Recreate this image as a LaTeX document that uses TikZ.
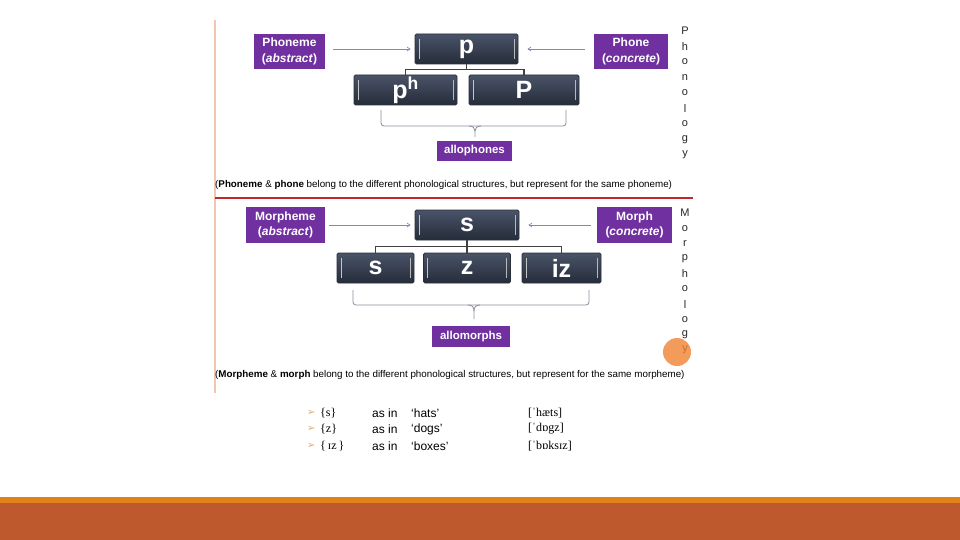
\documentclass[tikz,border=0pt]{standalone}
\usepackage{fontspec}
\setmainfont{Liberation Sans}
\newfontfamily\ipafont{Liberation Serif}
\newfontfamily\symfont{DejaVu Sans}
\usetikzlibrary{arrows.meta,calc}
\definecolor{purp}{HTML}{7030A0}
\definecolor{boxtop}{HTML}{4A5468}
\definecolor{boxbot}{HTML}{252C3A}
\definecolor{boxedge}{HTML}{2A303C}
\definecolor{arrc}{HTML}{9282B4}
\definecolor{brc}{HTML}{8C8C9C}
\definecolor{redline}{HTML}{C02A2A}
\definecolor{leftline}{HTML}{F3C6B0}
\definecolor{barorange}{HTML}{E0811A}
\definecolor{barbrown}{HTML}{BE592D}
\definecolor{dotorange}{HTML}{F08232}
\definecolor{bulletc}{HTML}{E9A86C}
\tikzset{
  dbox/.style={rounded corners=1.5pt, top color=boxtop, bottom color=boxbot, draw=boxedge, line width=0.8pt,
    text=white, font=\bfseries\fontsize{25}{27}\selectfont, inner sep=0pt,
    path picture={\draw[white!55!gray, line width=0.8pt]
      ([xshift=4pt,yshift=-5pt]path picture bounding box.north west) --
      ([xshift=4pt,yshift=5pt]path picture bounding box.south west);
      \draw[white!45!gray, line width=0.8pt]
      ([xshift=-4pt,yshift=-5pt]path picture bounding box.north east) --
      ([xshift=-4pt,yshift=5pt]path picture bounding box.south east);}},
  pbox/.style={fill=purp, text=white, font=\bfseries\fontsize{12}{15.5}\selectfont, align=center, inner sep=0pt},
  arr/.style={draw=arrc, line width=0.7pt, -{Straight Barb[length=3pt,width=4pt]}},
  tree/.style={draw=black!75, line width=1.7pt},
  brace/.style={draw=brc, line width=0.8pt},
  captxt/.style={font=\fontsize{9.8}{11}\selectfont, anchor=west, inner sep=0pt},
  vlet/.style={font=\fontsize{11}{12}\selectfont, inner sep=0pt, text=black!85},
  item/.style={font=\fontsize{12}{14}\selectfont, anchor=west, inner sep=0pt},
}
\begin{document}
\begin{tikzpicture}[x=1pt,y={(0pt,-1pt)}]
\useasboundingbox (0,0) rectangle (960,540);
\fill[white] (0,0) rectangle (960,540);
% frame of embedded picture
\draw[leftline, line width=1.5pt] (215,20) -- (215,393);
\draw[redline, line width=2pt] (215,198) -- (693,198);
% ---------- top: phonology ----------
\node[pbox, minimum width=71pt, minimum height=35pt] (Phoneme) at (289.5,51.5) {Phoneme\\(\textit{abstract})};
\node[pbox, minimum width=74pt, minimum height=35pt] (Phone) at (631,51.5) {Phone\\(\textit{concrete})};
\node[dbox, minimum width=103pt, minimum height=30pt] (p) at (466.5,49) {p};
\node[dbox, minimum width=103pt, minimum height=30pt] (ph) at (405.5,90) {p\textsuperscript{h}};
\node[dbox, minimum width=110pt, minimum height=30pt] (P) at (524,90) {P};
\node[pbox, minimum width=75pt, minimum height=20pt, font=\bfseries\fontsize{11.5}{13}\selectfont] (allophones) at (474.5,151) {allophones};
\draw[arr, shorten <=8pt, shorten >=4pt] (Phoneme.east |- p.west) -- (p.west);
\draw[arr, shorten <=9pt, shorten >=9pt] (Phone.west |- p.east) -- (p.east);
\coordinate (pj) at (466.5,69.5);
\draw[tree] (p.south) -- (pj);
\draw[tree] (ph.north) |- (pj) -| (P.north);
\coordinate (b1l) at (381,110);
\coordinate (b1r) at (566,110);
\coordinate (b1t) at (475,137);
\draw[brace, rounded corners=3pt] (b1l) -- (381,126) -- (566,126) -- (b1r);
\draw[brace] (469,126) .. controls (473,126) and (475,128) .. (475,131) -- (b1t);
\draw[brace] (481,126) .. controls (477,126) and (475,128) .. (475,131);
\node[captxt] (cap1) at (215,185) {(\textbf{Phoneme} \& \textbf{phone} belong to the different phonological structures, but represent for the same phoneme)};
\foreach \l [count=\i from 0] in {P,h,o,n,o,l,o,g,y}
  \node[vlet] (pl\i) at (685,31+15.5*\i) {\l};
% ---------- bottom: morphology ----------
\node[pbox, minimum width=79pt, minimum height=36pt] (Morpheme) at (285.5,225) {Morpheme\\(\textit{abstract})};
\node[pbox, minimum width=75pt, minimum height=36pt] (Morph) at (634.5,225) {Morph\\(\textit{concrete})};
\node[dbox, minimum width=104pt, minimum height=30pt] (S) at (467,225) {s};
\node[dbox, minimum width=77pt, minimum height=30pt] (s1) at (375.5,268) {s};
\node[dbox, minimum width=87pt, minimum height=30pt] (z1) at (467,268) {z};
\node[dbox, minimum width=79pt, minimum height=30pt] (iz1) at (561.5,268) {iz};
\node[pbox, minimum width=78pt, minimum height=21pt, font=\bfseries\fontsize{11.5}{13}\selectfont] (allomorphs) at (471,336.5) {allomorphs};
\draw[arr, shorten <=4pt, shorten >=4pt] (Morpheme.east |- S.west) -- (S.west);
\draw[arr, shorten <=6pt, shorten >=9pt] (Morph.west |- S.east) -- (S.east);
\coordinate (sj) at (467,246.5);
\draw[tree] (S.south) -- (z1.north);
\draw[tree] (s1.north) |- (sj) -| (iz1.north);
\coordinate (b2l) at (353,290);
\coordinate (b2r) at (589,290);
\coordinate (b2t) at (474,319);
\draw[brace, rounded corners=3pt] (b2l) -- (353,305) -- (589,305) -- (b2r);
\draw[brace] (468,305) .. controls (472,305) and (474,307) .. (474,311) -- (b2t);
\draw[brace] (480,305) .. controls (476,305) and (474,307) .. (474,311);
\node[captxt] (cap2) at (215,375) {(\textbf{Morpheme} \& \textbf{morph} belong to the different phonological structures, but represent for the same morpheme)};
\foreach \l [count=\i from 0] in {M,o,r,p,h,o,l,o,g,y}
  \node[vlet] (ml\i) at (685,213+15.2*\i) {\l};
\fill[dotorange, opacity=0.8] (677,352) circle (14pt);
% ---------- examples ----------
\foreach \yy/\m/\w/\ipa [count=\i] in {413/{s}/hats/ˈhæts, 429/{z}/dogs/ˈdɒgz, 446/{\,ɪz\,}/boxes/ˈbɒksɪz}{
  \node[item, text=bulletc, font=\symfont\fontsize{10}{11}\selectfont] (bu\i) at (307,\yy) {➢};
  \node[item, font=\ipafont\fontsize{12}{14}\selectfont] (mo\i) at (320,\yy) {\{\m\}};
  \node[item] (as\i) at (372,\yy) {as in};
  \node[item] (wd\i) at (411,\yy) {‘\w’};
  \node[item, font=\ipafont\fontsize{12}{14}\selectfont] (ip\i) at (528,\yy) {[\ipa]};
}
% ---------- slide bars ----------
\fill[barorange] (0,497) rectangle (960,503);
\fill[barbrown] (0,503) rectangle (960,540);
\end{tikzpicture}
\end{document}
